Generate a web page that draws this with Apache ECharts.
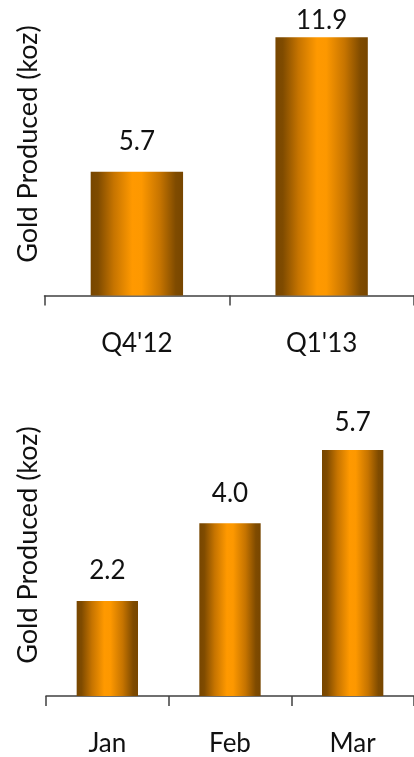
<!DOCTYPE html>
<html>
<head>
<meta charset="utf-8">
<style>
  html, body { margin: 0; padding: 0; background: #ffffff; }
  #chart { width: 414px; height: 757px; }
</style>
<script src="https://cdn.jsdelivr.net/npm/echarts@6/dist/echarts.min.js"></script>
</head>
<body>
<div id="chart"></div>
<script>
// Quarterly gold production
const quarterCategories = ["Q4'12", "Q1'13"];
const quarterValues = [5.7, 11.9];

// Monthly gold production
const monthCategories = ['Jan', 'Feb', 'Mar'];
const monthValues = [2.2, 4.0, 5.7];

const axisTitle = 'Gold Produced (koz)';
const FONT = 'Lato';
const TEXT_COLOR = '#111111';

// Cylinder-like horizontal shading for the bars
const barFill = new echarts.graphic.LinearGradient(0, 0, 1, 0, [
  { offset: 0.00, color: '#774600' },
  { offset: 0.08, color: '#7f4b00' },
  { offset: 0.25, color: '#c67400' },
  { offset: 0.45, color: '#ff9900' },
  { offset: 0.55, color: '#fd9800' },
  { offset: 0.75, color: '#c67400' },
  { offset: 0.92, color: '#7f4b00' },
  { offset: 1.00, color: '#774600' }
]);

const grids = [
  { left: 44.5, top: 35, width: 375, height: 260.5 },
  { left: 46, top: 437, width: 374, height: 259 }
];
const axisMax = [12, 6];

function catAxis(gridIndex, data) {
  return {
    type: 'category',
    gridIndex: gridIndex,
    data: data,
    axisLine: { show: true, lineStyle: { color: '#404040', width: 1.5 } },
    axisTick: { show: true, length: 10, lineStyle: { color: '#404040', width: 1.5 } },
    axisLabel: { color: TEXT_COLOR, fontSize: 26, fontFamily: FONT, margin: 35 }
  };
}

function valAxis(gridIndex) {
  return {
    type: 'value',
    gridIndex: gridIndex,
    min: 0,
    max: axisMax[gridIndex],
    show: false,
    splitLine: { show: false }
  };
}

// Value labels sit above each bar, but are pulled down toward the bar
// when there is not enough room above the plot area.
const LABEL_GAP = 17;
function labelledItems(gridIndex, values) {
  const g = grids[gridIndex];
  const max = axisMax[gridIndex];
  return values.map(v => {
    const headroom = (max - v) / max * g.height;
    return { value: v, label: { distance: Math.min(LABEL_GAP, headroom + 1.5) } };
  });
}

function barSeries(axisIndex, values) {
  return {
    type: 'bar',
    xAxisIndex: axisIndex,
    yAxisIndex: axisIndex,
    data: labelledItems(axisIndex, values),
    barWidth: '50%',
    itemStyle: { color: barFill },
    label: {
      show: true,
      position: 'top',
      color: TEXT_COLOR,
      fontSize: 26,
      fontFamily: FONT,
      formatter: p => p.value.toFixed(1)
    },
    animation: false
  };
}

function axisTitleText(cx, cy) {
  return {
    type: 'text', x: cx, y: cy, rotation: Math.PI / 2,
    style: {
      text: axisTitle, fontSize: 27, fontFamily: FONT, fill: TEXT_COLOR,
      align: 'center', verticalAlign: 'middle'
    }
  };
}

const chart = echarts.init(document.getElementById('chart'), null, { renderer: 'canvas' });

chart.setOption({
  backgroundColor: '#ffffff',
  animation: false,
  grid: grids,
  xAxis: [catAxis(0, quarterCategories), catAxis(1, monthCategories)],
  yAxis: [valAxis(0), valAxis(1)],
  series: [barSeries(0, quarterValues), barSeries(1, monthValues)],
  graphic: [axisTitleText(28, 144), axisTitleText(28, 545)]
});
</script>
</body>
</html>
